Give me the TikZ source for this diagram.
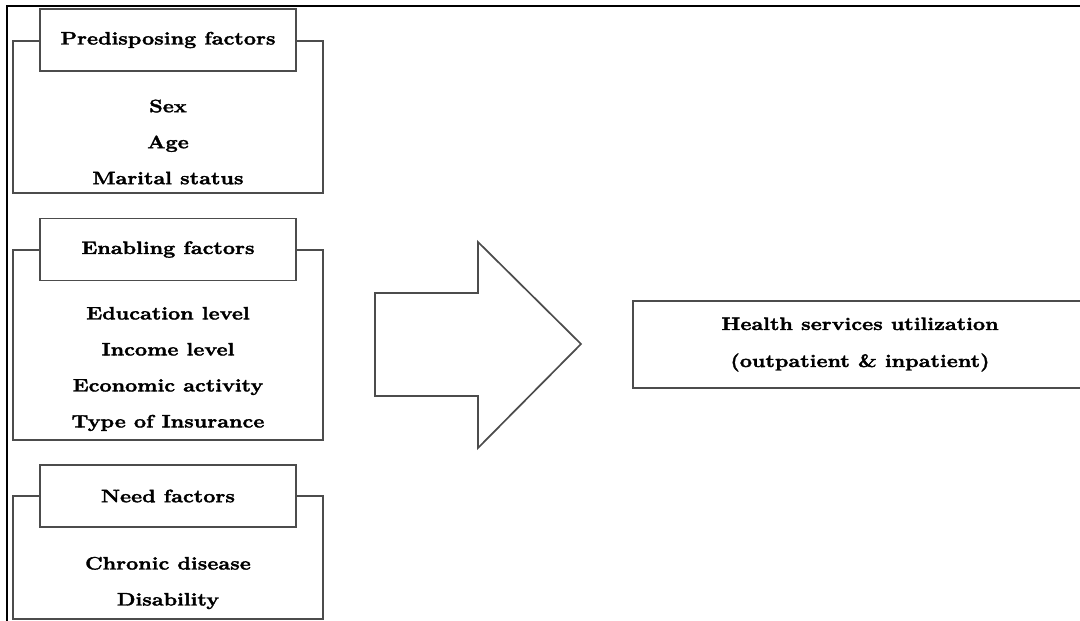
\documentclass[tikz,border=0pt]{standalone}
\usepackage{fontspec}
\setmainfont{Latin Modern Roman}[FakeStretch=1.2, BoldFeatures={FakeBold=2}]
\begin{document}
\begin{tikzpicture}[x=1pt,y=-1pt,
  boxline/.style={draw=black!70, line width=1.7pt},
  outerbox/.style={boxline, rectangle, minimum width=310, inner sep=0pt},
  titlebox/.style={boxline, rectangle, fill=white, minimum width=256, minimum height=62, inner sep=0pt, font=\fontsize{18}{22}\selectfont\bfseries},
  items/.style={align=center, inner sep=0pt, font=\fontsize{18}{36}\selectfont\bfseries},
  resultbox/.style={boxline, rectangle, minimum width=454, minimum height=87, inner sep=0pt, align=center, font=\fontsize{18}{37}\selectfont\bfseries},
  bigarrow/.style={draw=black!70, line width=1.7pt, fill=white, line join=miter}
]
\useasboundingbox (0,0) rectangle (1080,621);
\fill[white] (0,0) rectangle (1080,621);
% page border
\draw[black, line width=1.2pt] (7,621) -- (7,6) -- (1080,6);

% Predisposing
\node[outerbox, minimum height=152] (pout) at (168,117) {};
\node[titlebox] (ptitle) at (168,40) {Predisposing factors};
\node[items] (pitems) at (168,142) {Sex\\Age\\Marital status};

% Enabling
\node[outerbox, minimum height=190] (eout) at (168,345) {};
\node[titlebox] (etitle) at (168,249.5) {Enabling factors};
\node[items] (eitems) at (168,369) {Education level\\Income level\\Economic activity\\Type of Insurance};

% Need
\node[outerbox, minimum height=123] (nout) at (168,557.5) {};
\node[titlebox] (ntitle) at (168,496) {Need factors};
\node[items] (nitems) at (168,583) {Chronic disease\\Disability};

% Big arrow
\draw[bigarrow] (375,293) -- (478,293) -- (478,242) -- (581,344) -- (478,448) -- (478,396) -- (375,396) -- cycle;

% Result
\node[resultbox] (result) at (860,344.5) {Health services utilization\\(outpatient \& inpatient)};
\end{tikzpicture}
\end{document}
